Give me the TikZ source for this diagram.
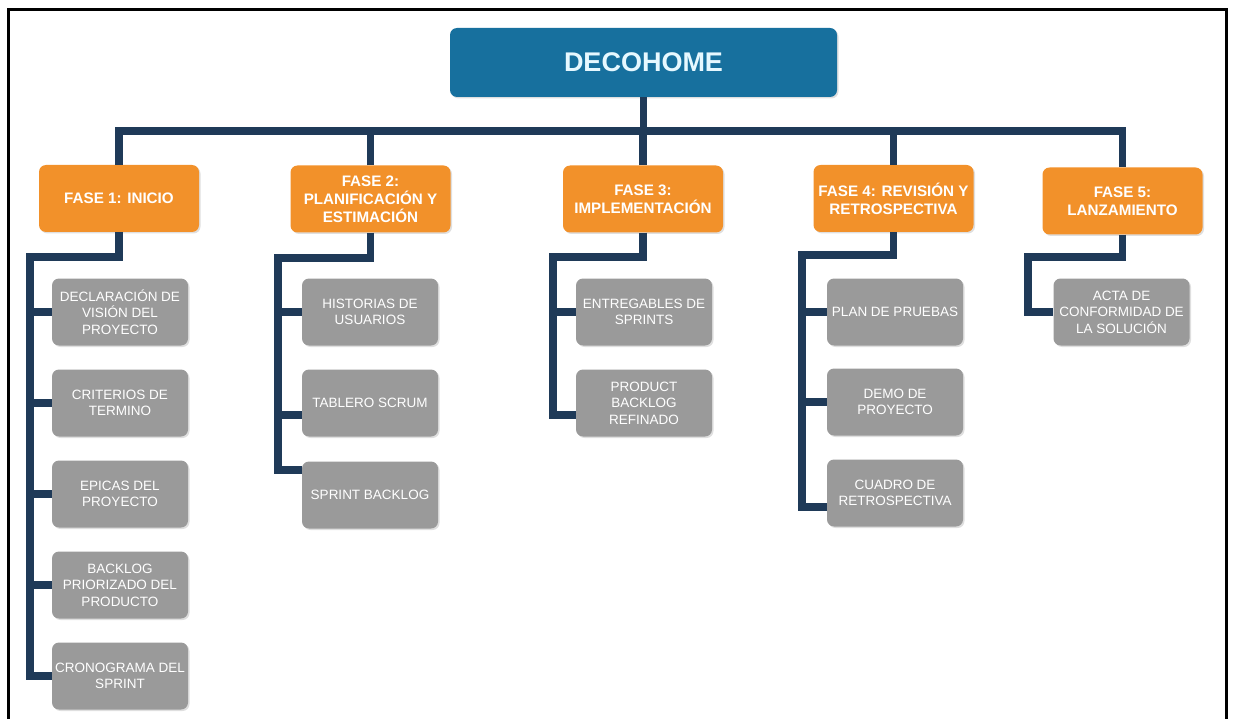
\documentclass[tikz,border=0pt]{standalone}
\usepackage{fontspec}
\setmainfont{Liberation Sans}
\usetikzlibrary{shadows}
\definecolor{rootblue}{HTML}{17709E}
\definecolor{phaseorange}{HTML}{F2912A}
\definecolor{itemgrey}{HTML}{9A9A9A}
\definecolor{navy}{HTML}{1F3A58}
\definecolor{roottext}{HTML}{E6F8FF}
\begin{document}
\begin{tikzpicture}[x=1pt,y=-1pt,
  box/.style={rounded corners=7pt, text=white, align=center, inner sep=1pt,
    drop shadow={opacity=0.25, shadow xshift=1.5pt, shadow yshift=-1.5pt}},
  rootbox/.style={box, fill=rootblue, text=roottext, minimum width=387pt, minimum height=69pt,
    font=\bfseries\fontsize{27}{32}\selectfont},
  phasebox/.style={box, fill=phaseorange, minimum width=160pt, minimum height=67pt,
    font=\bfseries\fontsize{15.2}{18}\selectfont},
  itembox/.style={box, fill=itemgrey, minimum width=136pt, minimum height=67pt,
    font=\fontsize{13.5}{16.5}\selectfont},
  conn/.style={draw=navy, line width=7.5pt, line join=miter}
]
\useasboundingbox (0,0) rectangle (1233,719);

% frame
\draw[line width=3pt] (8.5,719) -- (8.5,10) -- (1226.5,10) -- (1226.5,719);

% root
\node[rootbox] (root) at (643.5,62.5) {DECOHOME};

% phases
\node[phasebox] (f1) at (119,198.5) {FASE 1: INICIO};
\node[phasebox] (f2) at (370.5,199) {FASE 2:\\PLANIFICACIÓN Y\\ESTIMACIÓN};
\node[phasebox] (f3) at (643,199) {FASE 3:\\IMPLEMENTACIÓN};
\node[phasebox] (f4) at (893.5,198.5) {FASE 4: REVISIÓN Y\\RETROSPECTIVA};
\node[phasebox] (f5) at (1122.5,201) {FASE 5:\\LANZAMIENTO};

% phase 1 items
\node[itembox] (c11) at (120,312) {DECLARACIÓN DE\\VISIÓN DEL\\PROYECTO};
\node[itembox] (c12) at (120,403) {CRITERIOS DE\\TERMINO};
\node[itembox] (c13) at (120,494) {EPICAS DEL\\PROYECTO};
\node[itembox] (c14) at (120,585) {BACKLOG\\PRIORIZADO DEL\\PRODUCTO};
\node[itembox] (c15) at (120,676) {CRONOGRAMA DEL\\SPRINT};

% phase 2 items
\node[itembox] (c21) at (370,312) {HISTORIAS DE\\USUARIOS};
\node[itembox] (c22) at (370,403) {TABLERO SCRUM};
\node[itembox] (c23) at (370,495) {SPRINT BACKLOG};

% phase 3 items
\node[itembox] (c31) at (644,312) {ENTREGABLES DE\\SPRINTS};
\node[itembox] (c32) at (644,403) {PRODUCT\\BACKLOG\\REFINADO};

% phase 4 items
\node[itembox] (c41) at (895,312) {PLAN DE PRUEBAS};
\node[itembox] (c42) at (895,402) {DEMO DE\\PROYECTO};
\node[itembox] (c43) at (895,493) {CUADRO DE\\RETROSPECTIVA};

% phase 5 item
\node[itembox] (c51) at (1121.5,312) {ACTA DE\\CONFORMIDAD DE\\LA SOLUCIÓN};

% top-level bus
\coordinate (bus) at (0,131);
\draw[conn] (root.south) -- (root.south |- bus);
\draw[conn] (f1.north) -- (f1.north |- bus) -- (f5.north |- bus) -- (f5.north);
\draw[conn] (f2.north) -- (f2.north |- bus);
\draw[conn] (f3.north) -- (f3.north |- bus);
\draw[conn] (f4.north) -- (f4.north |- bus);

% phase 1 trunk
\coordinate (t1) at (30,257);
\draw[conn] (f1.south) |- (t1) -- (t1 |- c15) -- (c15.west);
\foreach \c in {c11,c12,c13,c14} \draw[conn] (t1 |- \c.west) -- (\c.west);

% phase 2 trunk
\coordinate (t2) at (278,258);
\coordinate (e22) at ([yshift=-12pt]c22.west);
\coordinate (e23) at ([yshift=25pt]c23.west);
\draw[conn] (f2.south) |- (t2) -- (t2 |- e23) -- (e23);
\draw[conn] (t2 |- c21.west) -- (c21.west);
\draw[conn] (t2 |- e22) -- (e22);

% phase 3 trunk
\coordinate (t3) at (553,257);
\coordinate (e32) at ([yshift=-12pt]c32.west);
\draw[conn] (f3.south) |- (t3) -- (t3 |- e32) -- (e32);
\draw[conn] (t3 |- c31.west) -- (c31.west);

% phase 4 trunk
\coordinate (t4) at (802,255);
\coordinate (e43) at ([yshift=-14pt]c43.west);
\draw[conn] (f4.south) |- (t4) -- (t4 |- e43) -- (e43);
\draw[conn] (t4 |- c41.west) -- (c41.west);
\draw[conn] (t4 |- c42.west) -- (c42.west);

% phase 5 trunk
\coordinate (t5) at (1028,257);
\draw[conn] (f5.south) |- (t5) -- (t5 |- c51) -- (c51.west);
\end{tikzpicture}
\end{document}
